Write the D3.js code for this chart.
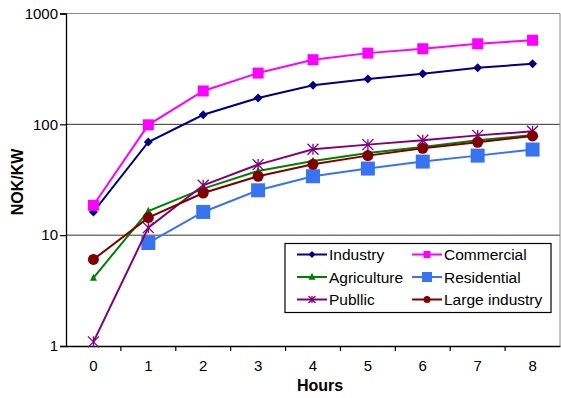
<!DOCTYPE html>
<html><head><meta charset="utf-8">
<script src="https://cdn.jsdelivr.net/npm/d3@7"></script>
<style>body{margin:0;background:#fff}svg{display:block;font-family:"Liberation Sans",Arial,sans-serif}</style>
</head><body><svg id="c" width="561" height="398"></svg>
<script>
const hours = [0,1,2,3,4,5,6,7,8];
const industry = [16.2,69.3,122,173,225,257,286,324,352];
const commercial = [18.6,99,200,290,383,439,481,533,574];
const agriculture = [4.12,16.5,26.3,38,46.7,55,62.5,71.8,80];
const residential = [null,8.5,16.2,25.4,34,39.9,46.1,52.2,59.2];
const publicS = [1.09,11.7,28.2,43.3,59.5,65.6,71.8,79.5,86.5];
const largeIndustry = [6.04,14.4,24.0,34.0,43.6,52.2,60.8,68.8,78.5];
const yTicks = [1,10,100,1000];
const seriesNames = ["Industry","Commercial","Agriculture","Residential","Publlic","Large industry"];

const series = [
 {name:seriesNames[0], values:industry, color:"#000080", marker:"diamond", size:9},
 {name:seriesNames[1], values:commercial, color:"#FF00FF", marker:"square", size:11},
 {name:seriesNames[2], values:agriculture, color:"#008000", marker:"triangle", size:7},
 {name:seriesNames[3], values:residential, color:"#3874F2", marker:"square", size:14},
 {name:seriesNames[4], values:publicS, color:"#800080", marker:"star", size:11},
 {name:seriesNames[5], values:largeIndustry, color:"#800000", marker:"circle", size:11}
];

const svg = d3.select("#c");
const L=66, R=560, T=13.5, B=346;
const x = d3.scaleBand().domain(hours).range([L,R]);
const y = d3.scaleLog().domain([1,1000]).range([B,T]);

// gridlines
svg.append("g").selectAll("line").data(yTicks.slice(1,3)).join("line")
 .attr("x1",L).attr("x2",R).attr("y1",d=>y(d)).attr("y2",d=>y(d))
 .attr("stroke","#333").attr("stroke-width",1);
// border top/right
svg.append("path").attr("d",`M${L},${y(1000)}H${R}V${B}`).attr("fill","none").attr("stroke","#888").attr("stroke-width",1);

// y axis
const ya = svg.append("g").attr("transform",`translate(${L},0)`)
 .call(d3.axisLeft(y).tickValues(yTicks).tickFormat(d3.format("d")).tickSize(6).tickPadding(2));
ya.select(".domain").attr("stroke","#000").attr("stroke-width",1.3);
ya.selectAll("text").attr("font-size",15).attr("fill","#000").attr("font-family","Liberation Sans, Arial, sans-serif");
ya.selectAll(".tick line").attr("stroke","#000").attr("stroke-width",1.2);

// x axis
const xa = svg.append("g").attr("transform",`translate(0,${B})`)
 .call(d3.axisBottom(x).tickSize(0).tickPadding(14));
xa.select(".domain").attr("stroke","#000").attr("stroke-width",1.3);
xa.selectAll("text").attr("font-size",15).attr("fill","#000").attr("font-family","Liberation Sans, Arial, sans-serif");
// boundary ticks between categories
svg.append("g").selectAll("line").data(hours.slice(1)).join("line")
 .attr("x1",d=>x(d)).attr("x2",d=>x(d)).attr("y1",B).attr("y2",B+5)
 .attr("stroke","#000").attr("stroke-width",1.2);

// titles
svg.append("text").attr("x",320).attr("y",391).attr("text-anchor","middle")
 .attr("font-size",16).attr("font-weight","bold").text("Hours");
svg.append("text").attr("transform",`translate(23,${182}) rotate(-90)`).attr("text-anchor","middle")
 .attr("font-size",16).attr("font-weight","bold").text("NOK/KW");

function drawMarker(g, type, color, s){
  if(type==="diamond"){
    g.append("path").attr("d",`M0,${-s/2}L${s/2},0L0,${s/2}L${-s/2},0Z`).attr("fill",color);
  } else if(type==="square"){
    g.append("rect").attr("x",-s/2).attr("y",-s/2).attr("width",s).attr("height",s).attr("fill",color);
  } else if(type==="triangle"){
    g.append("path").attr("d",`M0,${-s*0.6}L${s/2},${s*0.4}L${-s/2},${s*0.4}Z`).attr("fill",color);
  } else if(type==="circle"){
    g.append("circle").attr("r",s/2).attr("fill",color);
  } else if(type==="star"){
    const h=s/2;
    g.append("path").attr("d",`M${-h},${-h}L${h},${h}M${-h},${h}L${h},${-h}M0,${-h}V${h}`)
     .attr("stroke",color).attr("stroke-width",1.3).attr("fill","none");
  }
}

const line = d3.line().defined(d=>d.v!=null).x(d=>x(d.h)+x.bandwidth()/2).y(d=>y(d.v));
series.forEach(s=>{
  const pts = hours.map((h,i)=>({h, v:s.values[i]}));
  svg.append("path").datum(pts).attr("d",line).attr("fill","none").attr("stroke",s.color).attr("stroke-width",2);
  pts.filter(p=>p.v!=null).forEach(p=>{
    const g = svg.append("g").attr("transform",`translate(${x(p.h)+x.bandwidth()/2},${y(p.v)})`);
    drawMarker(g, s.marker, s.color, s.size);
  });
});

// legend
const lg = svg.append("g");
lg.append("rect").attr("x",285).attr("y",243.5).attr("width",266).attr("height",69)
 .attr("fill","#fff").attr("stroke","#000").attr("stroke-width",1.2);
const cols=[297,412], rows=[254.5,277,299.5];
series.forEach((s,i)=>{
  const cx = cols[i%2], cy = rows[Math.floor(i/2)];
  lg.append("line").attr("x1",cx).attr("x2",cx+30).attr("y1",cy).attr("y2",cy).attr("stroke",s.color).attr("stroke-width",2);
  const g = lg.append("g").attr("transform",`translate(${cx+15},${cy})`);
  drawMarker(g, s.marker, s.color, s.marker==="square" && i===3 ? 10 : Math.min(s.size,7));
  lg.append("text").attr("x",cx+32).attr("y",cy+5.5).attr("font-size",15.5).text(s.name);
});
</script></body></html>
